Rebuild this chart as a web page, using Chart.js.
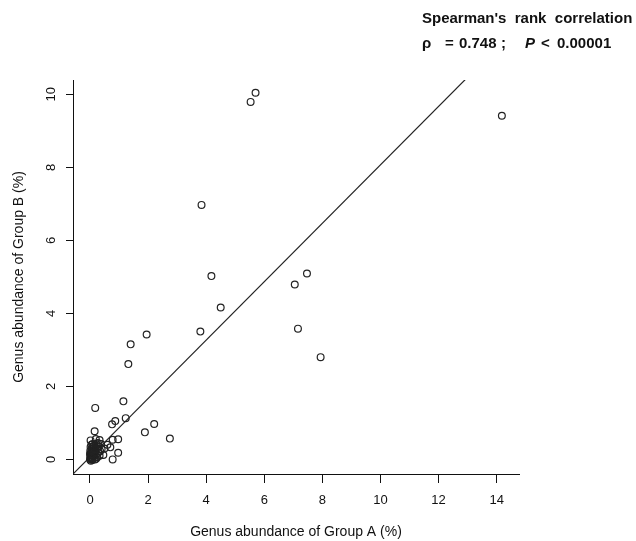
<!DOCTYPE html>
<html>
<head>
<meta charset="utf-8">
<script src="https://cdn.jsdelivr.net/npm/chart.js@4/dist/chart.umd.min.js"></script>
<style>
  html, body { margin: 0; padding: 0; background: #fff; }
  #wrap { width: 636px; height: 541px; position: relative; }
</style>
</head>
<body>
<div id="wrap"><canvas id="chart"></canvas></div>
<script>
// Genus abundance, Group A vs Group B (%)
const groupA = [
  5.70, 5.53, 14.18, 3.84, 4.18, 4.50, 3.80, 7.05, 7.47, 7.16, 7.94,
  1.95, 1.40, 1.32, 1.15, 0.18, 1.23, 0.87, 0.76, 2.21, 1.89, 2.75,
  0.16, 0.97, 0.78, 0.97, 0.78, 0.46, 0.60, 0.70, 0.50, 0.33, 0.20, 0.02,
  0.00, 0.02, 0.05, 0.01, 0.04, 0.08, 0.10, 0.03, 0.07, 0.12, 0.15, 0.18,
  0.06, 0.11, 0.20, 0.24, 0.14, 0.02, 0.28, 0.09, 0.22, 0.30, 0.35, 0.17,
  0.25, 0.01, 0.13, 0.05, 0.33, 0.40, 0.00, 0.19, 0.08, 0.27, 0.38,
  0.04, 0.09, 0.14, 0.06, 0.21, 0.12, 0.03, 0.16
];
const groupB = [
  10.04, 9.79, 9.41, 6.97, 5.02, 4.16, 3.50, 4.79, 5.09, 3.58, 2.80,
  3.42, 3.15, 2.61, 1.59, 1.41, 1.13, 1.05, 0.96, 0.97, 0.74, 0.57,
  0.77, 0.55, 0.54, 0.18, 0.00, 0.12, 0.40, 0.33, 0.30, 0.53, 0.56, 0.52,
  0.00, 0.03, 0.01, 0.08, 0.12, 0.05, 0.10, 0.18, 0.20, 0.15, 0.05, 0.22,
  0.28, 0.30, 0.12, 0.30, 0.38, 0.34, 0.18, 0.42, 0.42, 0.35, 0.22, 0.00,
  0.06, 0.24, 0.25, 0.40, 0.10, 0.28, 0.15, 0.33, -0.02, 0.45, 0.42,
  0.06, 0.14, 0.09, 0.22, 0.02, 0.35, -0.04, 0.28
];

// reference line
const lineA = [-0.585, 12.93];
const lineB = [-0.40, 10.41];

const xTicks = [0, 2, 4, 6, 8, 10, 12, 14];
const yTicks = [0, 2, 4, 6, 8, 10];

const xLabel = 'Genus abundance of Group A (%)';
const yLabel = 'Genus abundance of Group B (%)';

const FONT = '"Liberation Sans", Arial, sans-serif';

// Spearman note, top right
const notePlugin = {
  id: 'note',
  afterDraw(chart) {
    const ctx = chart.ctx;
    ctx.save();
    ctx.fillStyle = '#111';
    ctx.textBaseline = 'alphabetic';
    ctx.font = 'bold 15px ' + FONT;
    ctx.fillText("Spearman's  rank  correlation", 422, 23);
    const parts = [
      ['ρ', 422, false],
      ['=', 445, false],
      ['0.748', 459, false],
      [';', 501, false],
      ['P', 525, true],
      ['<', 541, false],
      ['0.00001', 557, false]
    ];
    parts.forEach(([t, x, it]) => {
      ctx.font = (it ? 'italic ' : '') + 'bold 15px ' + FONT;
      ctx.fillText(t, x, 48);
    });
    ctx.restore();
  }
};

const points = groupA.map((a, i) => ({ x: a, y: groupB[i] }));
const linePts = lineA.map((a, i) => ({ x: a, y: lineB[i] }));

new Chart(document.getElementById('chart'), {
  type: 'scatter',
  data: {
    datasets: [
      {
        label: 'genera',
        data: points,
        pointRadius: 3.4,
        pointBorderWidth: 1.2,
        pointBorderColor: '#222',
        pointBackgroundColor: 'rgba(0,0,0,0)',
        showLine: false
      },
      {
        type: 'line',
        label: 'fit',
        data: linePts,
        borderColor: '#222',
        borderWidth: 1.2,
        pointRadius: 0
      }
    ]
  },
  options: {
    responsive: true,
    maintainAspectRatio: false,
    animation: false,
    layout: { padding: { left: 0, top: 80, right: 117, bottom: 0 } },
    plugins: { legend: { display: false }, tooltip: { enabled: false } },
    scales: {
      x: {
        type: 'linear',
        min: -0.585,
        max: 14.77,
        afterFit: s => { s.height = 67; },
        afterBuildTicks: s => { s.ticks = xTicks.map(v => ({ value: v })); },
        border: { display: true, color: '#111', width: 1 },
        grid: { drawOnChartArea: false, drawTicks: true, tickLength: 9, color: '#111' },
        ticks: { color: '#111', font: { family: FONT, size: 13 }, padding: 10, maxRotation: 0 },
        title: { display: true, text: xLabel, color: '#111', font: { family: FONT, size: 14 }, padding: { top: 0, bottom: 0 } }
      },
      y: {
        type: 'linear',
        min: -0.40,
        max: 10.39,
        afterFit: s => { s.width = 73; },
        afterBuildTicks: s => { s.ticks = yTicks.map(v => ({ value: v })); },
        border: { display: true, color: '#111', width: 1 },
        grid: { drawOnChartArea: false, drawTicks: true, tickLength: 7, color: '#111' },
        ticks: { color: '#111', font: { family: FONT, size: 13 }, padding: 7, minRotation: 90, maxRotation: 90, crossAlign: 'center' },
        title: { display: true, text: yLabel, color: '#111', font: { family: FONT, size: 14 }, padding: { top: 11, bottom: 0 } }
      }
    }
  },
  plugins: [notePlugin]
});
</script>
</body>
</html>
